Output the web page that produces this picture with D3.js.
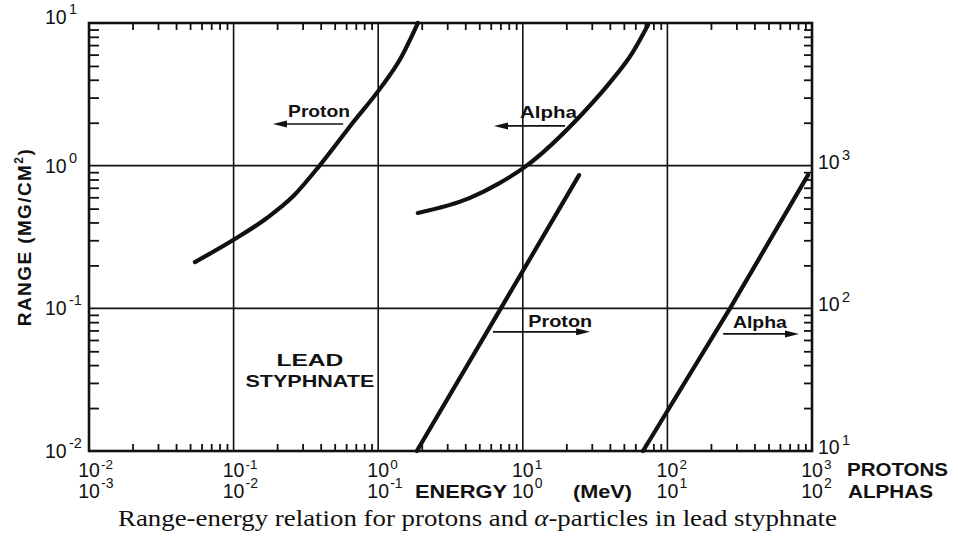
<!DOCTYPE html>
<html>
<head>
<meta charset="utf-8">
<script src="https://cdn.jsdelivr.net/npm/d3@7"></script>
<style>
  html, body { margin: 0; padding: 0; background: #fff; }
  svg { display: block; }
</style>
</head>
<body>
<svg id="chart" width="958" height="545"></svg>
<script>
// ---------- DATA ----------
// Upper curves: read on the LEFT axis (range, mg/cm^2)
const protonEnergyUpper = [0.054, 0.102, 0.170, 0.258, 0.396, 0.649, 1.06, 1.42, 1.88];   // MeV (proton scale)
const protonRangeUpper  = [0.211, 0.306, 0.430, 0.610, 1.01, 1.93, 3.61, 5.60, 10];
const alphaEnergyUpper  = [0.188, 0.431, 0.675, 1.035, 2.61, 3.88, 5.78, 7.34];           // MeV (alpha scale)
const alphaRangeUpper   = [0.466, 0.594, 0.745, 0.98, 2.34, 3.68, 6.27, 9.68];
// Lower curves: read on the RIGHT axis
const protonEnergyLower = [1.85, 10.2, 24.5];
const protonRangeLower  = [10, 189, 859];
const alphaEnergyLower  = [6.78, 27.1, 93.8];
const alphaRangeLower   = [10, 100, 859];

// Tick labels (value, exponent text)
const leftTickValues   = [1e-2, 1e-1, 1e0, 1e1];
const leftTickExps     = ["-2", "-1", "0", "1"];
const rightTickValues  = [1e1, 1e2, 1e3];
const rightTickExps    = ["1", "2", "3"];
const protonTickValues = [1e-2, 1e-1, 1e0, 1e1, 1e2, 1e3];
const protonTickExps   = ["-2", "-1", "0", "1", "2", "3"];
const alphaTickValues  = [1e-3, 1e-2, 1e-1, 1e0, 1e1, 1e2];
const alphaTickExps    = ["-3", "-2", "-1", "0", "1", "2"];

// ---------- LAYOUT ----------
const L = 89, R = 812, T = 23, B = 451;
const svg = d3.select("#chart");
const ink = "#111";

const xP = d3.scaleLog().domain([1e-2, 1e3]).range([L, R]);
const xA = d3.scaleLog().domain([1e-3, 1e2]).range([L, R]);
const yL = d3.scaleLog().domain([1e-2, 1e1]).range([B, T]);
const yR = d3.scaleLog().domain([1e1, 1e4]).range([B, T]);

function minorTicks(lo, hi) {
  const out = [];
  for (let e = lo; e < hi; e++) for (let m = 2; m <= 9; m++) out.push(m * Math.pow(10, e));
  return out;
}

// grid lines at decades
const g = svg.append("g");
g.selectAll(".vg").data([1e-1, 1e0, 1e1, 1e2]).join("line")
  .attr("x1", d => xP(d)).attr("x2", d => xP(d)).attr("y1", T).attr("y2", B)
  .attr("stroke", ink).attr("stroke-width", 1.6);
g.selectAll(".hg").data([1e-1, 1e0]).join("line")
  .attr("y1", d => yL(d)).attr("y2", d => yL(d)).attr("x1", L).attr("x2", R)
  .attr("stroke", ink).attr("stroke-width", 1.6);

// axes with inner minor ticks
function styleAxis(sel) {
  sel.select(".domain").remove();
  sel.selectAll(".tick line").attr("stroke", ink).attr("stroke-width", 1.8);
  sel.selectAll(".tick text").remove();
}
svg.append("g").attr("transform", `translate(${L},0)`)
  .call(d3.axisLeft(yL).tickValues(minorTicks(-2, 1)).tickSize(-10).tickFormat(""))
  .call(styleAxis);
svg.append("g").attr("transform", `translate(${R},0)`)
  .call(d3.axisRight(yR).tickValues(minorTicks(1, 4)).tickSize(-8).tickFormat(""))
  .call(styleAxis);
svg.append("g").attr("transform", `translate(0,${B})`)
  .call(d3.axisBottom(xP).tickValues(minorTicks(-2, 3)).tickSize(-7).tickFormat(""))
  .call(styleAxis);
svg.append("g").attr("transform", `translate(0,${T})`)
  .call(d3.axisTop(xP).tickValues(minorTicks(-2, 3)).tickSize(-7).tickFormat(""))
  .call(styleAxis);

// frame
svg.append("rect").attr("x", L).attr("y", T).attr("width", R - L).attr("height", B - T)
  .attr("fill", "none").attr("stroke", ink).attr("stroke-width", 2.6);

// ---------- CURVES ----------
const lineUpperP = d3.line().x(d => xP(d[0])).y(d => yL(d[1])).curve(d3.curveMonotoneX);
const lineUpperA = d3.line().x(d => xA(d[0])).y(d => yL(d[1])).curve(d3.curveMonotoneX);
const lineLowerP = d3.line().x(d => xP(d[0])).y(d => yR(d[1]));
const lineLowerA = d3.line().x(d => xA(d[0])).y(d => yR(d[1]));

const curveStyle = sel => sel.attr("fill", "none").attr("stroke", ink).attr("stroke-width", 4.2)
  .attr("stroke-linecap", "round").attr("stroke-linejoin", "round");

svg.append("path").datum(d3.zip(protonEnergyUpper, protonRangeUpper)).attr("d", lineUpperP).call(curveStyle);
svg.append("path").datum(d3.zip(alphaEnergyUpper, alphaRangeUpper)).attr("d", lineUpperA).call(curveStyle);
svg.append("path").datum(d3.zip(protonEnergyLower, protonRangeLower)).attr("d", lineLowerP).call(curveStyle);
svg.append("path").datum(d3.zip(alphaEnergyLower, alphaRangeLower)).attr("d", lineLowerA).call(curveStyle);

// ---------- TICK LABELS ----------
const numFont = "'Liberation Sans', Arial, sans-serif";
function sup(parent, x, y, base, exp, anchorBase, supDx, supDy, supSize) {
  parent.append("text").attr("x", x).attr("y", y).attr("text-anchor", anchorBase)
    .attr("font-family", numFont).attr("font-size", 19.5).attr("fill", ink).text(base);
  parent.append("text").attr("x", x + supDx).attr("y", y + supDy)
    .attr("font-family", numFont).attr("font-size", supSize || 14.5).attr("fill", ink).text(exp);
}
const lbl = svg.append("g");
leftTickValues.forEach((v, i) => {
  const y = yL(v);
  const top = (v === 1e1);
  sup(lbl, 45, top ? y + 1 : y + 7, "10", leftTickExps[i], "start", 24, -10);
});
rightTickValues.forEach((v, i) => {
  sup(lbl, 818, yR(v) + 3, "10", rightTickExps[i], "start", 24, -9);
});
protonTickValues.forEach((v, i) => {
  sup(lbl, xP(v), 477, "10", protonTickExps[i], "middle", 12, -8, 13.5);
});
alphaTickValues.forEach((v, i) => {
  sup(lbl, xA(v), 498, "10", alphaTickExps[i], "middle", 12, -10, 14);
});

const wordFont = "'Liberation Sans', Arial, sans-serif";
function word(x, y, txt, len, anchor, size) {
  return svg.append("text").attr("x", x).attr("y", y).attr("text-anchor", anchor || "start")
    .attr("font-family", wordFont).attr("font-weight", "bold").attr("font-size", size || 17)
    .attr("fill", ink).attr("textLength", len).attr("lengthAdjust", "spacingAndGlyphs").text(txt);
}
word(847, 476, "PROTONS", 101, "start", 17.5);
word(848, 498, "ALPHAS", 85, "start", 17.5);
word(415, 498, "ENERGY", 92, "start", 17.5);
word(573, 498, "(MeV)", 59, "start", 17.5);

// Y title
const yt = svg.append("text").attr("transform", "translate(31,237) rotate(-90)")
  .attr("text-anchor", "middle").attr("font-family", wordFont).attr("font-weight", "bold")
  .attr("font-size", 19).attr("letter-spacing", 1.4).attr("fill", ink);
yt.append("tspan").text("RANGE (MG/CM");
yt.append("tspan").attr("font-size", 12).attr("dy", -8).text("2");
yt.append("tspan").attr("dy", 8).text(")");

// ---------- ANNOTATIONS ----------
function arrow(x1, x2, y) {
  const dir = Math.sign(x2 - x1);
  svg.append("line").attr("x1", x1).attr("x2", x2 - dir * 10).attr("y1", y).attr("y2", y)
    .attr("stroke", ink).attr("stroke-width", 1.6);
  svg.append("path")
    .attr("d", `M${x2},${y} L${x2 - dir * 14},${y - 3.5} L${x2 - dir * 14},${y + 3.5} Z`)
    .attr("fill", ink);
}
word(xP(0.238), yL(2.19), "Proton", 62);
arrow(xP(0.572), xP(0.187), yL(1.96));
word(xP(9.57), yL(2.16), "Alpha", 57);
arrow(xP(19.6), xP(6.32), yL(1.90));
word(xP(10.9), yL(0.0741), "Proton", 64);
arrow(xP(6.22), xP(29.2), yL(0.0684));
word(xP(284), yL(0.0729), "Alpha", 54);
arrow(xP(243), xP(813), yL(0.0662));
word(xP(0.337), yL(0.0394), "LEAD", 67, "middle");
word(xP(0.337), yL(0.0281), "STYPHNATE", 129, "middle");

// ---------- CAPTION ----------
const cap = svg.append("text").attr("x", 477.5).attr("y", 526).attr("text-anchor", "middle")
  .attr("font-family", "'Liberation Serif', 'Times New Roman', serif").attr("font-size", 23)
  .attr("fill", ink).attr("textLength", 719).attr("lengthAdjust", "spacingAndGlyphs");
cap.append("tspan").text("Range-energy relation for protons and ");
cap.append("tspan").attr("font-style", "italic").text("α");
cap.append("tspan").text("-particles in lead styphnate");
</script>
</body>
</html>
